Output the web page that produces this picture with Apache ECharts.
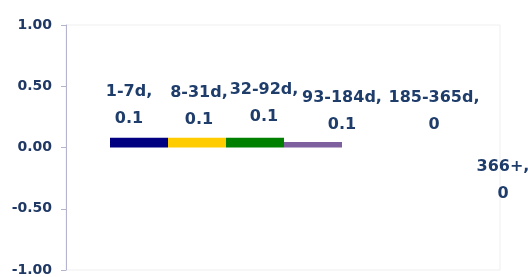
<!DOCTYPE html>
<html>
<head>
<meta charset="utf-8">
<script src="https://cdn.jsdelivr.net/npm/echarts@6/dist/echarts.min.js"></script>
<style>html,body{margin:0;padding:0;background:#fff;}#c{width:528px;height:277px;}</style>
</head>
<body>
<div id="c"></div>
<script>
// Data
var categories = ['1-7d', '8-31d', '32-92d', '93-184d', '185-365d', '366+'];
var values = [0.08, 0.08, 0.08, 0.045, 0, 0];
var labelTexts = ['0.1', '0.1', '0.1', '0.1', '0', '0'];
var yTicks = [-1, -0.5, 0, 0.5, 1];

// Styles
var colors = ['#000080', '#FFCC00', '#008000', '#7F609F', '#4F81BD', '#C0504D'];
var labelOffsets = [[-10, 0], [2, 1], [9, -2.5], [29, 1], [63, -4], [74, 65]];
var textColor = '#1F3D6B';

var chart = echarts.init(document.getElementById('c'), null, {renderer: 'canvas'});
var data = values.map(function (v, i) {
  return {
    value: v,
    itemStyle: {color: colors[i]},
    label: {offset: labelOffsets[i]}
  };
});
chart.setOption({
  animation: false,
  backgroundColor: '#ffffff',
  grid: {left: 110, width: 348, top: 25, height: 245},
  graphic: [{
    type: 'rect', z: -1,
    shape: {x: 66, y: 25, width: 434, height: 245},
    style: {fill: 'none', stroke: '#EFEFEF', lineWidth: 1}
  }],
  xAxis: {
    type: 'category', data: categories,
    axisLine: {show: false}, axisTick: {show: false}, axisLabel: {show: false},
    splitLine: {show: false}
  },
  yAxis: {
    type: 'value', min: yTicks[0], max: yTicks[yTicks.length - 1], interval: 0.5,
    offset: 44,
    axisLine: {show: true, lineStyle: {color: '#B4B4D0', width: 1}},
    axisTick: {show: true, length: 5, lineStyle: {color: '#B4B4D0'}},
    splitLine: {show: false},
    axisLabel: {
      margin: 14, color: '#1F3864', fontFamily: 'DejaVu Sans', fontWeight: 'bold', fontSize: 14,
      formatter: function (v) { return v.toFixed(2); }
    }
  },
  series: [{
    type: 'bar',
    data: data,
    barCategoryGap: '0%',
    label: {
      show: true, position: 'top', distance: 5,
      color: textColor, fontFamily: 'DejaVu Sans', fontWeight: 'bold', fontSize: 16,
      lineHeight: 27, align: 'center',
      formatter: function (p) { return categories[p.dataIndex] + ',\n' + labelTexts[p.dataIndex]; }
    }
  }]
});
</script>
</body>
</html>
